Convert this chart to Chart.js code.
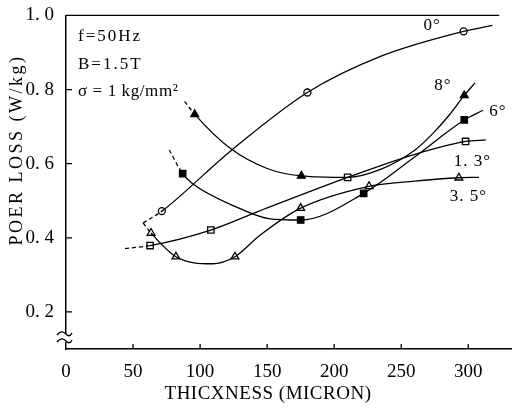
<!DOCTYPE html>
<html>
<head>
<meta charset="utf-8">
<script src="https://cdn.jsdelivr.net/npm/chart.js@4.4.1/dist/chart.umd.min.js"></script>
<style>
  html, body { margin: 0; padding: 0; background: #fff; }
</style>
</head>
<body>
<canvas id="myChart" width="517" height="409"></canvas>
<script>
// values: thickness (micron) and power loss (W/kg)
const seriesNames = ["0°", "8°", "6°", "1. 3°", "3. 5°"];

const thick0 = [57.5, 71.5, 123, 180, 235, 296.5, 318];
const loss0 = [0.44, 0.472, 0.635, 0.792, 0.89, 0.957, 0.973];
const measured0 = [1, 3, 5];

const thick8 = [88.5, 96, 123, 150, 175.5, 210, 235, 260, 274, 286, 297, 305];
const loss8 = [0.768, 0.733, 0.64, 0.587, 0.567, 0.563, 0.585, 0.636, 0.683, 0.732, 0.784, 0.818];
const measured8 = [1, 4, 10];

const thick6 = [77, 87, 94, 129, 151, 175, 222, 260, 297, 311];
const loss6 = [0.637, 0.573, 0.547, 0.48, 0.452, 0.448, 0.52, 0.618, 0.718, 0.744];
const measured6 = [1, 5, 6, 8];

const thick13 = [44, 62.7, 108, 144, 210, 259, 298, 313];
const loss13 = [0.371, 0.379, 0.421, 0.472, 0.563, 0.624, 0.66, 0.664];
const measured13 = [1, 2, 4, 6];

const thick35 = [57.5, 63.4, 82, 109, 126, 144, 175, 226, 260, 293, 308];
const loss35 = [0.44, 0.413, 0.349, 0.33, 0.349, 0.405, 0.48, 0.539, 0.553, 0.562, 0.563];
const measured35 = [1, 2, 4, 6, 7, 9];

const xTicks = [0, 50, 100, 150, 200, 250, 300];
const yTicks = [0.2, 0.4, 0.6, 0.8, 1.0];

// where the series names sit (data coords)
const labelSpots = [[273, 0.973], [281, 0.811], [322, 0.741], [303, 0.605], [300, 0.512]];

const serif = "'Liberation Serif', 'DejaVu Serif', serif";
Chart.defaults.font.family = serif;
Chart.defaults.color = "#000";

const toPoints = (xs, ys) => xs.map((x, i) => ({ x: x, y: ys[i] }));
const pick = (xs, ys, idx) => idx.map((i) => ({ x: xs[i], y: ys[i] }));

const dashFirst = { borderDash: (ctx) => (ctx.p0DataIndex === 0 ? [4, 3] : undefined) };

function trace(xs, ys) {
  return {
    data: toPoints(xs, ys),
    showLine: true,
    borderColor: "#000",
    borderWidth: 1.3,
    pointRadius: 0,
    cubicInterpolationMode: "monotone",
    segment: dashFirst,
  };
}

function marks(xs, ys, idx, style, fill, r) {
  return {
    data: pick(xs, ys, idx),
    showLine: false,
    pointStyle: style,
    pointRadius: r,
    pointBackgroundColor: fill,
    pointBorderColor: "#000",
    pointBorderWidth: 1.3,
  };
}

const data = {
  datasets: [
    trace(thick0, loss0),
    trace(thick8, loss8),
    trace(thick6, loss6),
    trace(thick13, loss13),
    trace(thick35, loss35),
    marks(thick0, loss0, measured0, "circle", "#fff", 3.5),
    marks(thick8, loss8, measured8, "triangle", "#000", 4.5),
    marks(thick6, loss6, measured6, "rect", "#000", 4.5),
    marks(thick13, loss13, measured13, "rect", "#fff", 4.5),
    marks(thick35, loss35, measured35, "triangle", "#fff", 4.5),
  ],
};

function spacedText(ctx, text, x, y, spacing) {
  ctx.letterSpacing = spacing + "px";
  ctx.fillText(text, x, y);
  ctx.letterSpacing = "0px";
}

const extras = {
  id: "extras",
  afterDraw(chart) {
    const ctx = chart.ctx;
    const area = chart.chartArea;
    const xs = chart.scales.x;
    const ys = chart.scales.y;
    ctx.save();
    ctx.strokeStyle = "#000";
    ctx.fillStyle = "#000";
    ctx.lineWidth = 1.3;

    // inward tick marks
    ctx.beginPath();
    xTicks.forEach((v) => {
      if (v === 0) return;
      const px = xs.getPixelForValue(v);
      ctx.moveTo(px, area.bottom);
      ctx.lineTo(px, area.bottom - 5);
    });
    yTicks.forEach((v) => {
      const py = ys.getPixelForValue(v);
      ctx.moveTo(area.left, py);
      ctx.lineTo(area.left + 6, py);
    });
    // top frame
    ctx.moveTo(area.left, area.top);
    ctx.lineTo(area.right - 12, area.top);
    ctx.stroke();

    // axis break on the y axis
    ctx.fillStyle = "#fff";
    ctx.fillRect(area.left - 3, area.bottom - 15, 6, 8);
    ctx.fillStyle = "#000";
    ctx.beginPath();
    [area.bottom - 15, area.bottom - 8].forEach((yy) => {
      ctx.moveTo(area.left - 9, yy + 1);
      ctx.bezierCurveTo(area.left - 5, yy - 4, area.left - 2, yy - 2, area.left, yy);
      ctx.bezierCurveTo(area.left + 2, yy + 2, area.left + 4, yy + 3, area.left + 6, yy - 1);
    });
    ctx.stroke();

    // axis titles
    ctx.textBaseline = "middle";
    ctx.textAlign = "center";
    ctx.font = "19px " + serif;
    spacedText(ctx, "THICXNESS (MICRON)", 268, 394, 0.5);
    ctx.save();
    ctx.translate(17, 150);
    ctx.rotate(-Math.PI / 2);
    ctx.font = "18px " + serif;
    spacedText(ctx, "POER LOSS (W/kg)", 0, 0, 2.5);
    ctx.restore();

    // test conditions
    ctx.textAlign = "left";
    ctx.font = "17px " + serif;
    spacedText(ctx, "f=50Hz", area.left + 12, area.top + 21, 2);
    spacedText(ctx, "B=1.5T", area.left + 12, area.top + 49, 2);
    spacedText(ctx, "σ = 1 kg/mm²", area.left + 12, area.top + 76, 0.6);

    // series names
    ctx.textAlign = "center";
    seriesNames.forEach((name, i) => {
      const px = xs.getPixelForValue(labelSpots[i][0]);
      const py = ys.getPixelForValue(labelSpots[i][1]);
      spacedText(ctx, name, px, py, 1);
    });
    ctx.restore();
  },
};

const config = {
  type: "scatter",
  data,
  options: {
    responsive: false,
    animation: false,
    layout: { padding: { top: 12, right: 1, left: 0, bottom: 0 } },
    plugins: {
      legend: { display: false },
      tooltip: { enabled: false },
    },
    scales: {
      x: {
        type: "linear",
        min: 0,
        max: 332,
        afterBuildTicks: (s) => {
          s.ticks = xTicks.map((v) => ({ value: v }));
        },
        afterFit: (s) => {
          s.height = 60;
        },
        grid: { display: false },
        border: { display: true, color: "#000", width: 1.5 },
        ticks: { font: { size: 19 }, padding: 4, maxRotation: 0 },
      },
      y: {
        type: "linear",
        min: 0.1,
        max: 1.0,
        afterBuildTicks: (s) => {
          s.ticks = yTicks.map((v) => ({ value: v }));
        },
        afterFit: (s) => {
          s.width = 66;
        },
        grid: { display: false },
        border: { display: true, color: "#000", width: 1.5 },
        ticks: {
          font: { size: 19 },
          padding: 4,
          callback: (v) => v.toFixed(1).replace(".", ". "),
        },
      },
    },
  },
  plugins: [extras],
};

const myChart = new Chart(document.getElementById("myChart"), config);
</script>
</body>
</html>
